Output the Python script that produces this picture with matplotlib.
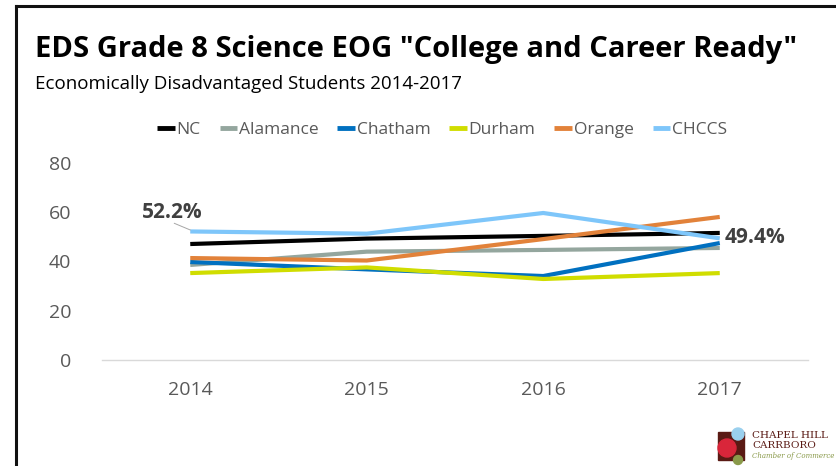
import matplotlib.pyplot as plt
from matplotlib.patches import Rectangle, Circle
from matplotlib.lines import Line2D

years = ['2014', '2015', '2016', '2017']
nc = [47.1, 49.3, 50.4, 51.6]
alamance = [38.6, 44.0, 44.7, 45.5]
chatham = [39.8, 36.8, 34.1, 47.5]
durham = [35.3, 37.6, 32.9, 35.3]
orange = [41.4, 40.4, 49.1, 58.1]
chccs = [52.2, 51.3, 59.7, 49.4]

names = ['NC', 'Alamance', 'Chatham', 'Durham', 'Orange', 'CHCCS']
colors = ['#000000', '#94A69E', '#0070C0', '#D0DD00', '#E2823A', '#7EC6FA']
series = [nc, alamance, chatham, durham, orange, chccs]

plt.rcParams['font.family'] = ['Open Sans', 'DejaVu Sans']

fig = plt.figure(figsize=(8.36, 4.66), dpi=100)
W, H = 836, 466

# frame round the slide (left and top only)
fig.add_artist(Line2D([16 / W, 16 / W], [0, 1 - 6 / H], color='#111111', lw=2.2))
fig.add_artist(Line2D([16 / W, 1], [1 - 6 / H, 1 - 6 / H], color='#111111', lw=2.2))

fig.text(35 / W, 1 - 50 / H, 'EDS Grade 8 Science EOG "College and Career Ready"',
         fontsize=21, fontweight='bold', va='center', ha='left', color='black')
fig.text(35 / W, 1 - 84 / H, 'Economically Disadvantaged Students 2014-2017',
         fontsize=13.5, va='center', ha='left', color='black')

ax = fig.add_axes([102 / W, 106 / H, 706 / W, (360 - 163) / H])
x = range(len(years))
for vals, name, c in zip(series, names, colors):
    ax.plot(x, vals, color=c, lw=3, label=name, solid_capstyle='butt')

ax.set_xlim(-0.5, 3.5)
ax.set_ylim(0, 80)
ax.set_yticks([0, 20, 40, 60, 80])
ax.set_xticks(list(x))
ax.set_xticklabels(years)
ax.tick_params(length=0, labelsize=14, colors='#595959')
ax.tick_params(axis='y', pad=22)
ax.tick_params(axis='x', pad=15)
for s in ['top', 'right', 'left']:
    ax.spines[s].set_visible(False)
ax.spines['bottom'].set_color('#D9D9D9')
ax.spines['bottom'].set_linewidth(1)
ax.patch.set_alpha(0)

# data labels, the first with a thin leader line
ax.plot([-0.09, 0], [55.5, chccs[0] + 0.6], color='#A6A6A6', lw=0.7)
ax.text(-0.1, 60.1, '52.2%', fontsize=15, fontweight='bold', color='#404040',
        ha='center', va='center')
ax.text(3.03, chccs[3] + 0.3, '49.4%', fontsize=15, fontweight='bold', color='#404040',
        ha='left', va='center')

leg = fig.legend(loc='center', bbox_to_anchor=(442 / W, 1 - 130 / H), ncol=6, frameon=False,
                 fontsize=12.5, handlelength=1.0, handletextpad=0.1, columnspacing=1.1)
for t in leg.get_texts():
    t.set_color('#595959')
for h in leg.legend_handles:
    h.set_linewidth(3.5)

# chamber logo
lax = fig.add_axes([712 / W, 0, 124 / W, 44 / H])
lax.set_xlim(0, 124)
lax.set_ylim(0, 44)
lax.axis('off')
lax.add_patch(Rectangle((6, 6), 26, 28, color='#5A1A14'))
lax.add_patch(Circle((15, 18), 9, color='#D9263A'))
lax.add_patch(Circle((26, 32), 6, color='#9AD0EE'))
lax.add_patch(Circle((26, 6), 4.5, color='#8A9A4A'))
lax.text(40, 30, 'CHAPEL HILL', fontsize=7.5, family='DejaVu Serif', color='#5A1A14', va='center')
lax.text(40, 20, 'CARRBORO', fontsize=7.5, family='DejaVu Serif', color='#5A1A14', va='center')
lax.text(40, 10, 'Chamber of Commerce', fontsize=5, family='DejaVu Serif', style='italic',
         color='#8A9A4A', va='center')

fig.savefig('out.png', dpi=100)
